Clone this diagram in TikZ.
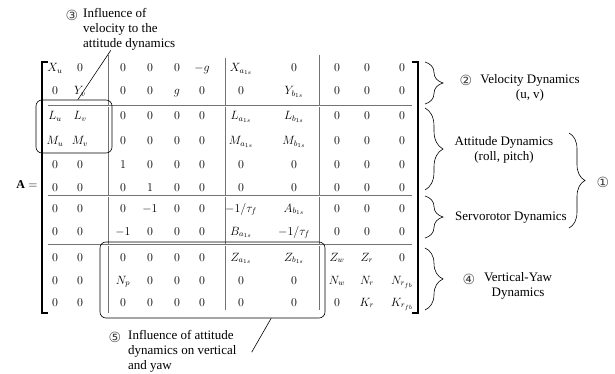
\documentclass[tikz,border=0pt]{standalone}
\usepackage{fontspec}
\setmainfont{Liberation Serif}
\newfontfamily\circfont{DejaVu Sans}
\usetikzlibrary{decorations.pathreplacing,calc}

\begin{document}
\begin{tikzpicture}[x=1pt,y=-1pt,
    entry/.style={inner sep=0pt,anchor=base,font=\fontsize{12}{14}\selectfont},
    lbl/.style={inner sep=0pt,font=\fontsize{13}{15}\selectfont,align=center},
    circ/.style={inner sep=0pt,font=\circfont\fontsize{14}{16}\selectfont,text=black!75}]
    \tikzstyle{sepline}=[draw=black!55,line width=0.4pt]
    \tikzstyle{hsep}=[draw=black!55,double,double distance=0.7pt,line width=0.4pt]
    \tikzstyle{brc}=[decorate,decoration={brace,amplitude=18pt},line width=0.6pt]
    \tikzstyle{rbox}=[draw,rounded corners=6pt,line width=0.6pt,inner sep=0pt]

    \useasboundingbox (0,0) rectangle (615,374);

    % entries of A, row by row
    \foreach \ents [count=\r] in {
        {X_u,0,0,0,0,-g,X_{a_{1s}},0,0,0,0},
        {0,Y_v,0,0,g,0,0,Y_{b_{1s}},0,0,0},
        {L_u,L_v,0,0,0,0,L_{a_{1s}},L_{b_{1s}},0,0,0},
        {M_u,M_v,0,0,0,0,M_{a_{1s}},M_{b_{1s}},0,0,0},
        {0,0,1,0,0,0,0,0,0,0,0},
        {0,0,0,1,0,0,0,0,0,0,0},
        {0,0,0,-1,0,0,-1/\tau_f,A_{b_{1s}},0,0,0},
        {0,0,-1,0,0,0,B_{a_{1s}},-1/\tau_f,0,0,0},
        {0,0,0,0,0,0,Z_{a_{1s}},Z_{b_{1s}},Z_w,Z_r,0},
        {0,0,N_p,0,0,0,0,0,N_w,N_r,N_{r_{fb}}},
        {0,0,0,0,0,0,0,0,0,K_r,K_{r_{fb}}}} {
      \pgfmathsetmacro{\y}{{72,95,120,145,168,191,212,235,261,284,306}[\r-1]}
      \foreach \e [count=\c] in \ents {
        \pgfmathsetmacro{\x}{{55,80,123,150,177,202,241,294,337,367,402}[\c-1]}
        \node[entry] (m-\r-\c) at (\x,\y) {$\e$};
      }
    }
    \node[entry] (Alab) at (27,189) {$\mathbf{A}=$};

    % brackets and block lines
    \draw[line width=1.6pt] (48,62) -| (42,313) -- (48,313);
    \draw[line width=1.6pt] (412,62) -| (418,313) -- (412,313);
    \draw[sepline] (108,55) -- (108,313);
    \draw[sepline] (225,58) -- (225,310);
    \draw[sepline] (319,55) -- (319,310);
    \draw[hsep] (48,106) -- (412,106);
    \draw[hsep] (48,196) -- (412,196);
    \draw[hsep] (48,245) -- (412,245);

    % blocks on the right
    \draw[brc] (425,62) -- (425,104);
    \draw[brc] (425,108) -- (425,190);
    \draw[brc] (425,196) -- (425,238);
    \draw[brc] (425,248) -- (425,310);
    \draw[brc,decoration={amplitude=16pt}] (569,133) -- (569,228);

    \node[circ] (c2) at (466,80) {②};
    \node[lbl] (veldyn) at (530,88) {Velocity Dynamics\\(u, v)};
    \node[lbl] (attdyn) at (504,150) {Attitude Dynamics\\(roll, pitch)};
    \node[lbl] (servodyn) at (511,218) {Servorotor Dynamics};
    \node[circ] (c4) at (469,279) {④};
    \node[lbl] (vydyn) at (518,286) {Vertical-Yaw\\Dynamics};
    \node[circ] (c1) at (603,182) {①};

    % coupling blocks
    \node[rbox,minimum width=76,minimum height=53] (velbox) at (74,126.5) {};
    \node[rbox,minimum width=225,minimum height=76] (attbox) at (212.5,280) {};

    \node[circ] (c3) at (72,15) {③};
    \node[lbl,align=left,anchor=north west] (infvel) at (83,8) {Influence of\\velocity to the\\attitude dynamics};
    \node[circ] (c5) at (115,337) {⑤};
    \node[lbl,align=left,anchor=north west] (infatt) at (128,330) {Influence of attitude\\dynamics on vertical\\and yaw};

    \draw[line width=0.6pt] ($(velbox.north west)!0.55!(velbox.north east)$) -- ($(infvel.south west)!0.3!(infvel.south east)$);
    \draw[line width=0.6pt] ($(attbox.south west)!0.76!(attbox.south east)$) -- ($(infatt.east)+(15,1)$);
\end{tikzpicture}
\end{document}
